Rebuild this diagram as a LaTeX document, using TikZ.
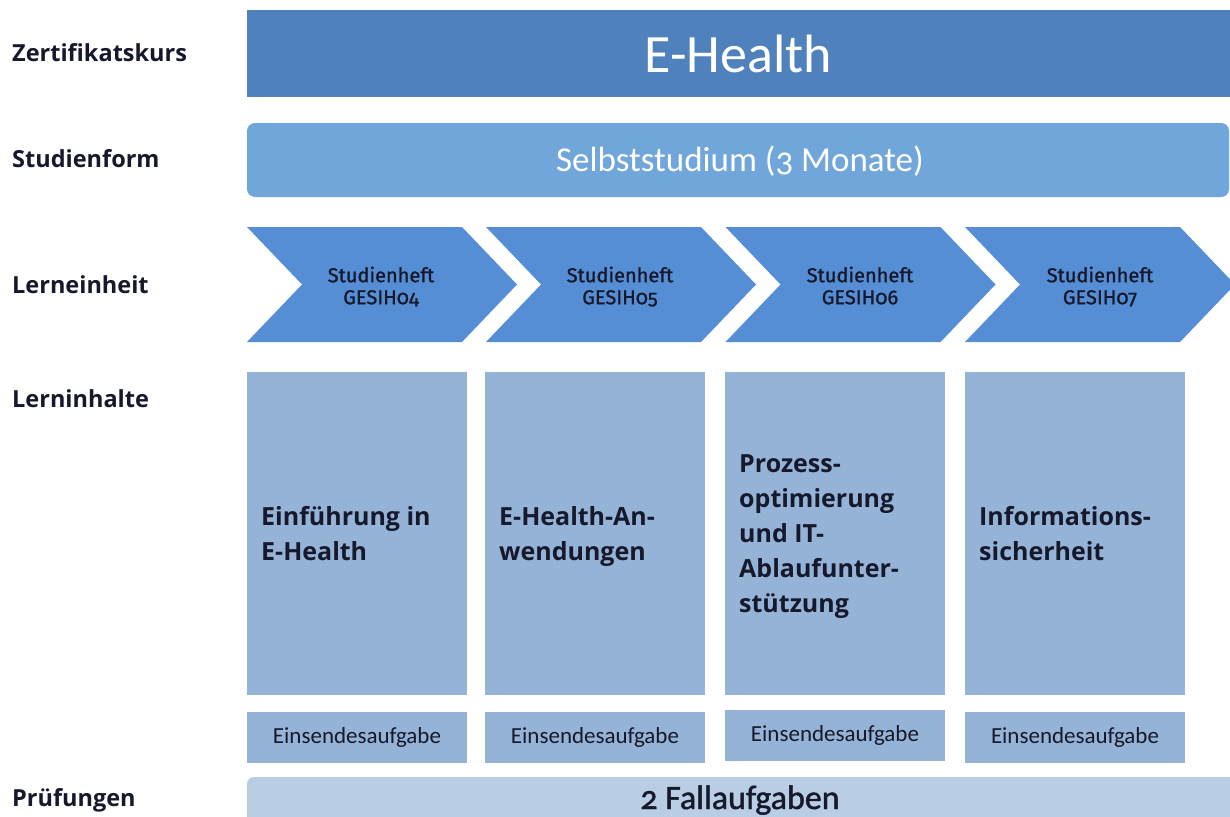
\documentclass[tikz,border=0pt]{standalone}
\usepackage{fontspec}
\setmainfont{Open Sans}
\newfontfamily\calfont[Numbers=OldStyle]{Carlito}
\newfontfamily\calmedfont[Numbers=OldStyle,FakeBold=1.2]{Carlito}
\newfontfamily\firafont[Numbers=OldStyle,FakeBold=1.2]{Fira Sans}
\definecolor{kursblue}{HTML}{4F81BD}
\definecolor{formblue}{HTML}{71A6DB}
\definecolor{chevblue}{HTML}{558ED5}
\definecolor{boxblue}{HTML}{95B3D7}
\definecolor{fallblue}{HTML}{B9CDE5}
\definecolor{darktext}{HTML}{15192B}
\tikzset{
  rowlabel/.style={anchor=base west, inner sep=0, text=darktext, font=\bfseries\fontsize{23.5}{28}\selectfont},
  chevtext/.style={anchor=north, inner sep=0, align=center, text=darktext, font=\firafont\fontsize{20}{22}\selectfont},
  contenttext/.style={anchor=north west, inner sep=0, align=left, text=darktext, font=\bfseries\fontsize{25}{35}\selectfont},
  inhaltbox/.style={rectangle, fill=boxblue, inner sep=0, minimum width=220, minimum height=323},
  einsbox/.style={rectangle, fill=boxblue, inner sep=0, minimum width=220, minimum height=51, text=darktext, font=\calfont\fontsize{23}{26}\selectfont},
  chevshape/.style={fill=chevblue}
}
\begin{document}
\begin{tikzpicture}[x=1pt,y=-1pt]
\useasboundingbox[fill=white] (0,0) rectangle (1230,816);

% row labels
\node[rowlabel] (lzert) at (12,61) {Zertifikatskurs};
\node[rowlabel] (lform) at (12,167) {Studienform};
\node[rowlabel] (leinh) at (12,293) {Lerneinheit};
\node[rowlabel] (linh) at (12,407) {Lerninhalte};
\node[rowlabel] (lpruef) at (12,806) {Prüfungen};

% Zertifikatskurs bar
\node[rectangle, fill=kursblue, inner sep=0, minimum width=983, minimum height=87] (kurs) at (738.5,53.5) {};
\node[anchor=base, inner sep=0, text=white, font=\calfont\fontsize{54}{60}\selectfont] (kurstxt) at (738.5,72) {E-Health};

% Studienform bar
\node[rectangle, rounded corners=8, fill=formblue, inner sep=0, minimum width=982, minimum height=74] (form) at (738,160) {};
\node[anchor=base, inner sep=0, text=white, font=\calfont\fontsize{35}{40}\selectfont] (formtxt) at (740,171) {Selbststudium (3 Monate)};

% chevrons
\begin{scope}
\clip (0,0) rectangle (1230,816);
\foreach \s in {247,486,725.5,965}{
  \fill[chevshape] (\s,227) -- ({\s+215},227) -- ({\s+270},284.5) -- ({\s+215},342) -- (\s,342) -- ({\s+55},284.5) -- cycle;
}
\end{scope}
\node[chevtext] (c1) at (381,265) {\rule{0pt}{17pt}Studienheft\\GESIH04};
\node[chevtext] (c2) at (620,265) {\rule{0pt}{17pt}Studienheft\\GESIH05};
\node[chevtext] (c3) at (860,265) {\rule{0pt}{17pt}Studienheft\\GESIH06};
\node[chevtext] (c4) at (1100,265) {\rule{0pt}{17pt}Studienheft\\GESIH07};

% content boxes
\node[inhaltbox] (b1) at (357,533.5) {};
\node[inhaltbox] (b2) at (595,533.5) {};
\node[inhaltbox] (b3) at (835,533.5) {};
\node[inhaltbox] (b4) at (1075,533.5) {};
\node[contenttext] (t1) at (261,505) {\rule{0pt}{20pt}Einführung in\\E-Health};
\node[contenttext] (t2) at (499,505) {\rule{0pt}{20pt}E-Health-An-\\wendungen};
\node[contenttext] (t3) at (739,452) {\rule{0pt}{20pt}Prozess-\\optimierung\\und IT-\\Ablaufunter-\\stützung};
\node[contenttext] (t4) at (979,505) {\rule{0pt}{20pt}Informations-\\sicherheit};

% Einsendeaufgaben
\node[einsbox] (e1) at (357,737.5) {Einsendesaufgabe};
\node[einsbox] (e2) at (595,737.5) {Einsendesaufgabe};
\node[einsbox] (e3) at (835,735) {Einsendesaufgabe};
\node[einsbox] (e4) at (1075,737.5) {Einsendesaufgabe};

% Pruefungen bar
\begin{scope}
\clip (0,0) rectangle (1230,816);
\fill[fallblue, rounded corners=7] (247,777) rectangle (1240,840);
\end{scope}
\node[anchor=base, inner sep=0, text=darktext, font=\calmedfont\fontsize{34}{40}\selectfont] (fall) at (740,809) {2 Fallaufgaben};
\end{tikzpicture}
\end{document}
